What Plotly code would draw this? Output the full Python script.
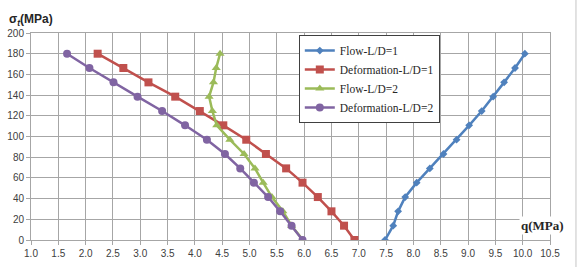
import plotly.graph_objects as go

stress = [0, 13.85, 27.7, 41.5, 55.4, 69.2, 83.1, 96.9, 110.8, 124.6, 138.5, 152.3, 166.2, 180]

flow_ld1 = [7.48, 7.63, 7.72, 7.85, 8.06, 8.30, 8.55, 8.79, 9.02, 9.25, 9.46, 9.66, 9.86, 10.04]
deform_ld1 = [6.92, 6.73, 6.50, 6.25, 5.97, 5.67, 5.30, 4.94, 4.52, 4.09, 3.64, 3.15, 2.69, 2.22]
flow_ld2 = [5.98, 5.77, 5.61, 5.41, 5.25, 5.10, 4.90, 4.64, 4.40, 4.32, 4.26, 4.34, 4.39, 4.46]
deform_ld2 = [5.97, 5.77, 5.56, 5.34, 5.08, 4.83, 4.55, 4.22, 3.82, 3.40, 2.95, 2.51, 2.07, 1.66]

names = ["Flow-L/D=1", "Deformation-L/D=1", "Flow-L/D=2", "Deformation-L/D=2"]
colors = ["#4F81BD", "#C0504D", "#9BBB59", "#8064A2"]
symbols = ["diamond", "square", "triangle-up", "circle"]
sizes = [6, 8, 8, 8]
series = [flow_ld1, deform_ld1, flow_ld2, deform_ld2]

x_ticks = [1.0 + 0.5 * i for i in range(20)]
y_ticks = list(range(0, 201, 20))

fig = go.Figure()
for name, col, sym, sz, xs in zip(names, colors, symbols, sizes, series):
    fig.add_trace(go.Scatter(
        x=xs, y=stress, mode="lines+markers", name=name,
        line=dict(color=col, width=2.5),
        marker=dict(symbol=sym, size=sz, color=col),
    ))

grid = "#A6A6A6"
tickfont = dict(family="Liberation Sans, Arial, sans-serif", size=10, color="#404040")

fig.update_layout(
    width=582, height=267,
    margin=dict(l=31, r=32, t=33, b=27, autoexpand=False),
    paper_bgcolor="white", plot_bgcolor="white",
    showlegend=True,
    legend=dict(
        x=0.516, y=0.99, xanchor="left", yanchor="top",
        bgcolor="white", bordercolor="#404040", borderwidth=1,
        font=dict(family="Liberation Serif, DejaVu Serif, serif", size=11.5, color="#262626"),
        itemwidth=30, tracegroupgap=0,
    ),
    xaxis=dict(
        range=[1.0, 10.5], tickmode="array", tickvals=x_ticks,
        ticktext=[f"{v:.1f}" for v in x_ticks],
        showgrid=True, gridcolor=grid, gridwidth=1,
        showline=True, linecolor=grid, linewidth=1, mirror=True,
        ticks="outside", ticklen=4, tickcolor=grid,
        tickfont=tickfont, zeroline=False, automargin=False,
    ),
    yaxis=dict(
        range=[0, 200], tickmode="array", tickvals=y_ticks,
        showgrid=True, gridcolor=grid, gridwidth=1,
        showline=True, linecolor=grid, linewidth=1, mirror=True,
        ticks="outside", ticklen=4, tickcolor=grid,
        tickfont=tickfont, zeroline=False, automargin=False,
    ),
    annotations=[
        dict(text="<b>σ<sub><i>t</i></sub>(MPa)</b>", xref="paper", yref="paper",
             x=-0.046, y=1.065, xanchor="left", yanchor="middle", showarrow=False,
             font=dict(family="Liberation Sans, Arial, sans-serif", size=12, color="#262626")),
        dict(text="<b>q(MPa)</b>", xref="paper", yref="paper",
             x=0.94, y=0.068, xanchor="left", yanchor="middle", showarrow=False,
             bgcolor="white",
             font=dict(family="Liberation Serif, DejaVu Serif, serif", size=13, color="#262626")),
    ],
    shapes=[
        dict(type="line", xref="paper", yref="paper", x0=1.05, x1=1.05, y0=-0.14, y1=1.17,
             line=dict(color="#D9D9D9", width=1.5)),
    ],
)

fig.write_html("out.html")
